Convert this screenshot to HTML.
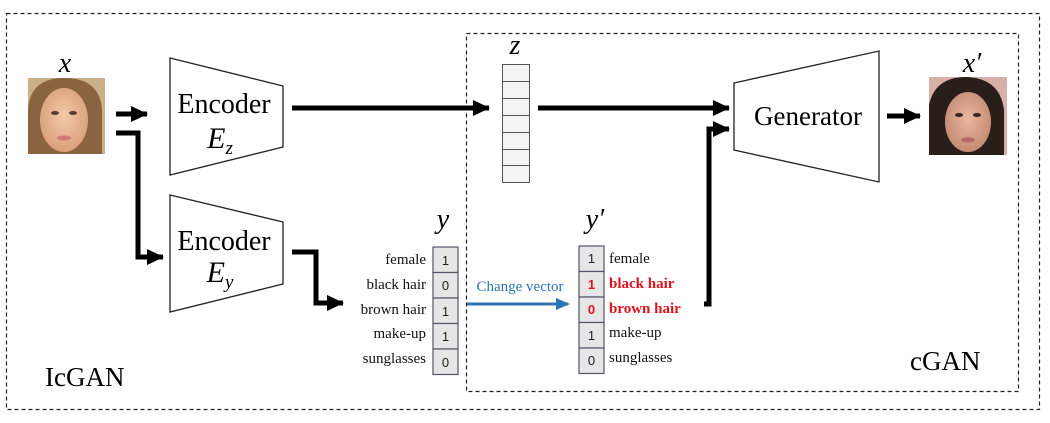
<!DOCTYPE html>
<html><head><meta charset="utf-8"><style>
html,body{margin:0;padding:0;background:#fff;width:1050px;height:423px;overflow:hidden}
svg text{font-family:"Liberation Serif",serif}
svg text.sans{font-family:"Liberation Sans",sans-serif}
</style></head><body>
<svg width="1050" height="423" viewBox="0 0 1050 423" xmlns="http://www.w3.org/2000/svg">
<defs>
<marker id="ah" markerWidth="18" markerHeight="18" refX="16" refY="9" orient="auto" markerUnits="userSpaceOnUse"><path d="M0,1 L17,9 L0,17 z" fill="#000"/></marker>
<marker id="bh" markerWidth="14" markerHeight="14" refX="12" refY="7" orient="auto" markerUnits="userSpaceOnUse"><path d="M0,1 L14,7 L0,13 z" fill="#2e75b6"/></marker>
<radialGradient id="skin1" cx="50%" cy="45%" r="55%"><stop offset="0" stop-color="#f3c9a8"/><stop offset="1" stop-color="#d9a07a"/></radialGradient>
<radialGradient id="skin2" cx="50%" cy="45%" r="55%"><stop offset="0" stop-color="#e8b79e"/><stop offset="1" stop-color="#c58a72"/></radialGradient>
</defs>
<rect x="6.5" y="13.5" width="1033" height="396" fill="none" stroke="#222" stroke-width="1.2" stroke-dasharray="4,3"/>
<rect x="466.5" y="33.5" width="552" height="358" fill="none" stroke="#222" stroke-width="1.2" stroke-dasharray="4,3"/>

<text x="65" y="72" font-size="28" font-style="italic" text-anchor="middle">x</text>
<g>
<rect x="28" y="78" width="77" height="76" fill="#c9b08a"/>
<path d="M28,154 L28,110 Q30,78 64,78 Q100,78 102,110 L102,154 z" fill="#8a6440"/>
<ellipse cx="64" cy="120" rx="24" ry="32" fill="url(#skin1)"/>
<ellipse cx="55" cy="113" rx="4" ry="2" fill="#5a3a2a"/><ellipse cx="73" cy="113" rx="4" ry="2" fill="#5a3a2a"/>
<ellipse cx="64" cy="138" rx="7" ry="2.5" fill="#d27a7a"/>
</g>

<line x1="116" y1="114" x2="147" y2="114" stroke="#000" stroke-width="5" marker-end="url(#ah)"/>
<polyline points="116,133 138,133 138,257 163,257" fill="none" stroke="#000" stroke-width="5" marker-end="url(#ah)"/>

<polygon points="170,58 283,86 283,147 170,175" fill="#fff" stroke="#222" stroke-width="1.3"/>
<text x="224" y="113" font-size="28" text-anchor="middle">Encoder</text>
<text x="220" y="148" font-size="30" font-style="italic" text-anchor="middle">E<tspan font-size="19" dy="6">z</tspan></text>
<polygon points="170,195 283,222 283,284 170,312" fill="#fff" stroke="#222" stroke-width="1.3"/>
<text x="224" y="250" font-size="28" text-anchor="middle">Encoder</text>
<text x="220" y="282" font-size="30" font-style="italic" text-anchor="middle">E<tspan font-size="19" dy="6">y</tspan></text>

<line x1="292" y1="108" x2="489" y2="108" stroke="#000" stroke-width="5" marker-end="url(#ah)"/>
<polyline points="292,252 316,252 316,303 343,303" fill="none" stroke="#000" stroke-width="5" marker-end="url(#ah)"/>

<text x="515" y="54" font-size="28" font-style="italic" text-anchor="middle">z</text>
<g fill="#f4f4f4" stroke="#555" stroke-width="1">
<rect x="502.5" y="64.5" width="27" height="17"/><rect x="502.5" y="81.5" width="27" height="17"/>
<rect x="502.5" y="98.5" width="27" height="17"/><rect x="502.5" y="115.5" width="27" height="17"/>
<rect x="502.5" y="132.5" width="27" height="17"/><rect x="502.5" y="149.5" width="27" height="16"/>
<rect x="502.5" y="165.5" width="27" height="17"/>
</g>
<line x1="538" y1="108" x2="729" y2="108" stroke="#000" stroke-width="5" marker-end="url(#ah)"/>
<polyline points="704,304 709,304 709,129 729,129" fill="none" stroke="#000" stroke-width="5" marker-end="url(#ah)"/>

<polygon points="734,83 879,51 879,182 734,150" fill="#fff" stroke="#222" stroke-width="1.3"/>
<text x="808" y="125" font-size="27" text-anchor="middle">Generator</text>
<line x1="887" y1="116" x2="920" y2="116" stroke="#000" stroke-width="5" marker-end="url(#ah)"/>

<text x="972" y="72" font-size="28" font-style="italic" text-anchor="middle">x′</text>
<g>
<rect x="929" y="77" width="78" height="78" fill="#d9b0a8"/>
<path d="M929,155 L929,105 Q935,77 966,77 Q1000,78 1004,110 L1004,155 z" fill="#2a1e1a"/>
<ellipse cx="968" cy="122" rx="23" ry="30" fill="url(#skin2)"/>
<ellipse cx="959" cy="115" rx="4" ry="2" fill="#3a2520"/><ellipse cx="977" cy="115" rx="4" ry="2" fill="#3a2520"/>
<ellipse cx="968" cy="140" rx="7" ry="2.5" fill="#b26a6a"/>
</g>

<text x="443" y="228" font-size="28" font-style="italic" text-anchor="middle">y</text>
<g fill="#e6e6e6" stroke="#556" stroke-width="1.2">
<rect x="433" y="247" width="25" height="25.5"/><rect x="433" y="272.5" width="25" height="25.5"/>
<rect x="433" y="298" width="25" height="25.5"/><rect x="433" y="323.5" width="25" height="25.5"/>
<rect x="433" y="349" width="25" height="25.5"/>
</g>
<g font-size="13" text-anchor="middle" fill="#222">
<text class="sans" x="445.5" y="265">1</text><text class="sans" x="445.5" y="290">0</text><text class="sans" x="445.5" y="316">1</text><text class="sans" x="445.5" y="341">1</text><text class="sans" x="445.5" y="367">0</text>
</g>
<g font-size="15" text-anchor="end" fill="#111">
<text x="426" y="264">female</text><text x="426" y="289">black hair</text><text x="426" y="314">brown hair</text><text x="426" y="338">make-up</text><text x="426" y="363">sunglasses</text>
</g>

<text x="520" y="291" font-size="15" fill="#2e75b6" text-anchor="middle">Change vector</text>
<line x1="467" y1="304" x2="568" y2="304" stroke="#2e75b6" stroke-width="3" marker-end="url(#bh)"/>

<text x="595" y="228" font-size="28" font-style="italic" text-anchor="middle">y′</text>
<g fill="#e6e6e6" stroke="#556" stroke-width="1.2">
<rect x="579" y="246" width="25" height="25.5"/><rect x="579" y="271.5" width="25" height="25.5"/>
<rect x="579" y="297" width="25" height="25.5"/><rect x="579" y="322.5" width="25" height="25.5"/>
<rect x="579" y="348" width="25" height="25.5"/>
</g>
<g font-size="13" text-anchor="middle">
<text class="sans" x="591.5" y="263" fill="#222">1</text><text class="sans" x="591.5" y="289" fill="#e0141e" font-weight="bold">1</text><text class="sans" x="591.5" y="314" fill="#e0141e" font-weight="bold">0</text><text class="sans" x="591.5" y="340" fill="#222">1</text><text class="sans" x="591.5" y="365" fill="#222">0</text>
</g>
<g font-size="15" fill="#111">
<text x="609" y="263">female</text>
<text x="609" y="288" fill="#e0141e" font-weight="bold">black hair</text>
<text x="609" y="313" fill="#e0141e" font-weight="bold">brown hair</text>
<text x="609" y="337">make-up</text><text x="609" y="362">sunglasses</text>
</g>

<text x="45" y="386" font-size="27">IcGAN</text>
<text x="910" y="370" font-size="27">cGAN</text>
</svg>
</body></html>
